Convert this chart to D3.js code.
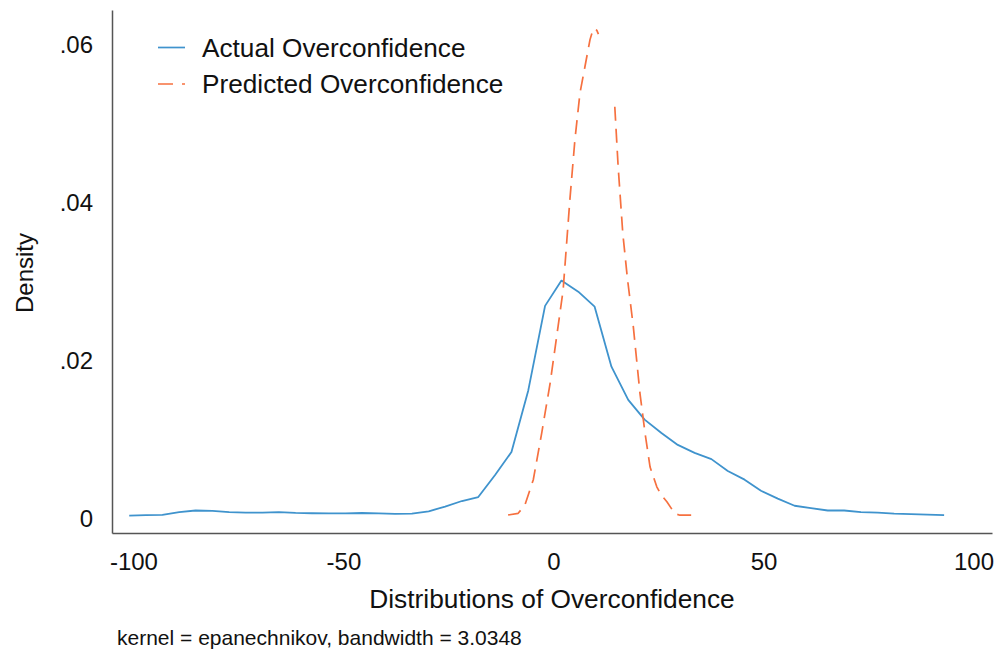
<!DOCTYPE html>
<html>
<head>
<meta charset="utf-8">
<script src="https://cdn.jsdelivr.net/npm/d3@7"></script>
<style>
  html, body { margin: 0; padding: 0; background: #fff; }
  svg { display: block; font-family: "Liberation Sans", Arial, Helvetica, sans-serif; }
</style>
</head>
<body>
<svg id="chart" width="1003" height="658"></svg>
<script>
// Kernel density of actual overconfidence (Epanechnikov, 50 evaluation points)
const actualX = [
  -101.0, -97.0, -93.1, -89.1, -85.2, -81.2, -77.2, -73.3, -69.3, -65.4,
  -61.4, -57.5, -53.5, -49.5, -45.6, -41.6, -37.7, -33.7, -29.7, -25.8,
  -21.8, -17.9, -13.9, -10.0, -6.0, -2.0, 1.9, 5.9, 9.8, 13.8,
  17.8, 21.7, 25.7, 29.6, 33.6, 37.6, 41.5, 45.5, 49.4, 53.4,
  57.4, 61.3, 65.3, 69.2, 73.2, 77.2, 81.1, 85.1, 89.0, 93.0
];
const actualDensity = [
  0.00005, 0.0001, 0.00015, 0.0005, 0.0007, 0.00065, 0.0005, 0.00043, 0.00043, 0.0005,
  0.0004, 0.00035, 0.00034, 0.00034, 0.00038, 0.00034, 0.00026, 0.0003, 0.0006, 0.0012,
  0.0019, 0.0024, 0.0052, 0.0081, 0.0159, 0.0266, 0.0298, 0.0284, 0.0265, 0.0189,
  0.0147, 0.0122, 0.0105, 0.0090, 0.0080, 0.0072, 0.0057, 0.0046, 0.0032, 0.0022,
  0.0013, 0.0010, 0.0007, 0.0007, 0.0005, 0.00042, 0.0003, 0.00025, 0.00018, 0.0001
];

// Kernel density of predicted overconfidence (null = no line drawn)
const predictedX = [
  -10.8, -8.4, -6.8, -4.8, -2.8, -0.8, 1.1, 2.3, 3.9, 5.1,
  6.3, 7.5, 8.7, 9.5, 10.3, 10.7, 12.6, 14.6, 15.4, 16.5,
  17.6, 19.0, 20.6, 21.8, 23.0, 24.6, 25.6, 27.0, 28.9, 30.1, 33.3
];
const predictedDensity = [
  0.00013, 0.00034, 0.0014, 0.0046, 0.0105, 0.0168, 0.0240, 0.0286, 0.0400, 0.0476,
  0.0535, 0.0569, 0.0603, 0.0617, 0.0615, 0.0610, null, 0.0518, 0.0442, 0.0358,
  0.0301, 0.0240, 0.0155, 0.0105, 0.0062, 0.0037, 0.0027, 0.0018, 0.0003, 0.0001, 0.0001
];

const seriesNames = ["Actual Overconfidence", "Predicted Overconfidence"];
const seriesColors = ["#3f93cd", "#f6703f"];

const xTicks = [-100, -50, 0, 50, 100];
const xTickLabels = ["-100", "-50", "0", "50", "100"];
const yTicks = [0, 0.02, 0.04, 0.06];
const yTickLabels = ["0", ".02", ".04", ".06"];

const xTitle = "Distributions of Overconfidence";
const yTitle = "Density";
const note = "kernel = epanechnikov, bandwidth = 3.0348";

const svg = d3.select("#chart");

const x = d3.scaleLinear().domain([-105.1, 104.4]).range([112, 992]);
const y = d3.scaleLinear().domain([-0.00215, 0.06405]).range([533, 10]);

// Axes: plain lines with labels, no tick marks
const xAxis = d3.axisBottom(x)
  .tickValues(xTicks)
  .tickSize(0)
  .tickPadding(20)
  .tickFormat((d, i) => xTickLabels[i]);
const gx = svg.append("g").attr("transform", `translate(0,${y.range()[0]})`).call(xAxis);
gx.select(".domain").attr("stroke", "#555").attr("stroke-width", 1.5);
gx.selectAll("text").attr("font-size", 24).attr("fill", "#111")
  .attr("font-family", "Liberation Sans, Arial, sans-serif");

const yAxis = d3.axisLeft(y)
  .tickValues(yTicks)
  .tickSize(0)
  .tickPadding(19)
  .tickFormat((d, i) => yTickLabels[i]);
const gy = svg.append("g").attr("transform", `translate(${x.range()[0]},0)`).call(yAxis);
gy.select(".domain").attr("stroke", "#555").attr("stroke-width", 1.5);
gy.selectAll("text").attr("font-size", 24).attr("fill", "#111").attr("dy", "0.45em")
  .attr("font-family", "Liberation Sans, Arial, sans-serif");

// Density curves
const actual = actualX.map((v, i) => ({ x: v, d: actualDensity[i] }));
const predicted = predictedX.map((v, i) => ({ x: v, d: predictedDensity[i] }));

const line = d3.line()
  .defined(p => p.d !== null)
  .x(p => x(p.x))
  .y(p => y(p.d));

svg.append("path")
  .datum(actual)
  .attr("fill", "none")
  .attr("stroke", seriesColors[0])
  .attr("stroke-width", 1.8)
  .attr("stroke-linejoin", "round")
  .attr("d", line);

svg.append("path")
  .datum(predicted)
  .attr("fill", "none")
  .attr("stroke", seriesColors[1])
  .attr("stroke-width", 1.7)
  .attr("stroke-dasharray", "14,8")
  .attr("stroke-linejoin", "round")
  .attr("d", line);

// Legend
const legend = svg.append("g");
seriesNames.forEach((name, i) => {
  const ly = 47.5 + i * 36.5;
  legend.append("line")
    .attr("x1", 158).attr("x2", 185)
    .attr("y1", ly).attr("y2", ly)
    .attr("stroke", seriesColors[i])
    .attr("stroke-width", 1.7)
    .attr("stroke-dasharray", i === 1 ? "15,9" : null);
  legend.append("text")
    .attr("x", 202).attr("y", ly)
    .attr("dy", "0.36em")
    .attr("font-size", 26.2)
    .attr("fill", "#111")
    .text(name);
});

// Axis titles and note
svg.append("text")
  .attr("x", 552).attr("y", 608)
  .attr("text-anchor", "middle")
  .attr("font-size", 26.3)
  .attr("fill", "#111")
  .text(xTitle);

svg.append("text")
  .attr("transform", "translate(33,273) rotate(-90)")
  .attr("text-anchor", "middle")
  .attr("font-size", 24)
  .attr("fill", "#111")
  .text(yTitle);

svg.append("text")
  .attr("x", 117).attr("y", 645)
  .attr("font-size", 21)
  .attr("fill", "#111")
  .text(note);
</script>
</body>
</html>
